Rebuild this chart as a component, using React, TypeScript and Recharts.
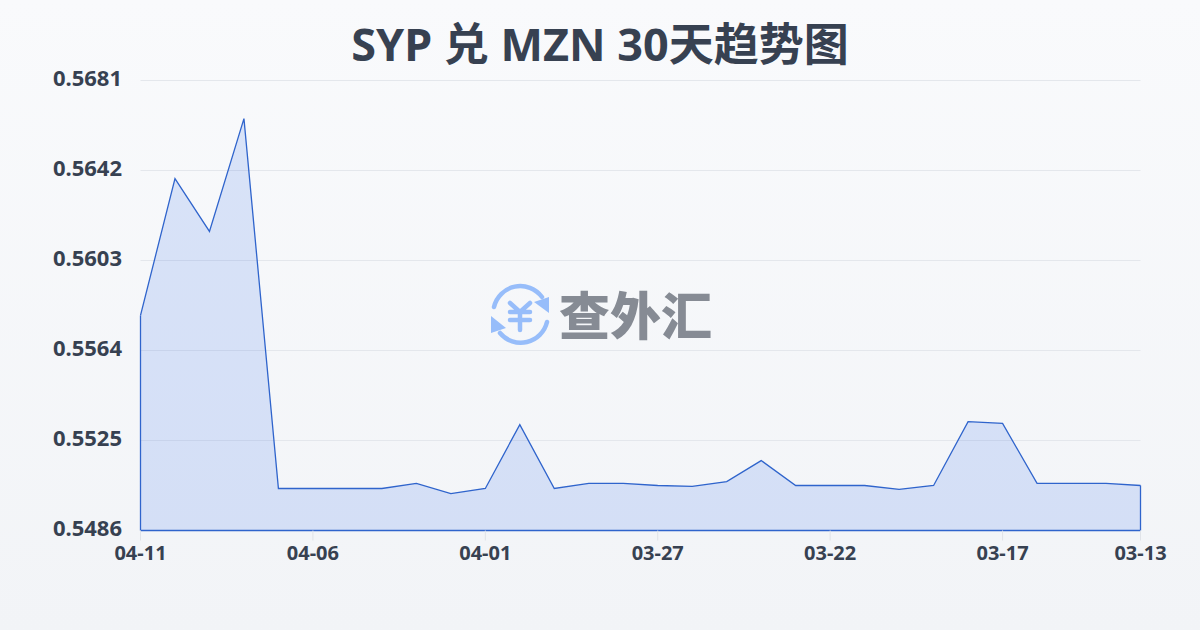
import { AreaChart, Area, XAxis, YAxis, CartesianGrid, ReferenceLine } from "recharts"

const dates = [
    "04-11", "04-10", "04-09", "04-08", "04-07", "04-06", "04-05", "04-04", "04-03", "04-02",
    "04-01", "03-31", "03-30", "03-29", "03-28", "03-27", "03-26", "03-25", "03-24", "03-23",
    "03-22", "03-21", "03-20", "03-19", "03-18", "03-17", "03-16", "03-15", "03-14", "03-13",
]
const rates = [
    0.55792, 0.56385, 0.56156, 0.56645, 0.55042, 0.55042, 0.55042, 0.55042, 0.55064, 0.5502,
    0.55042, 0.55319, 0.55042, 0.55064, 0.55064, 0.55055, 0.55051, 0.55072, 0.55163, 0.55055,
    0.55055, 0.55055, 0.55038, 0.55055, 0.55332, 0.55324, 0.55064, 0.55064, 0.55064, 0.55055,
]
const xTicks = ["04-11", "04-06", "04-01", "03-27", "03-22", "03-17", "03-13"]
const yTicks = [0.5486, 0.5525, 0.5564, 0.5603, 0.5642, 0.5681]

const data = dates.map((date, i) => ({ date, rate: rates[i] }))

const font = '"Noto Sans", "Noto Sans CJK SC", sans-serif'
const textColor = "#374151"
const lineColor = "#2f64cc"
const yMin = yTicks[0]
const firstDate = dates[0]
const lastDate = dates[dates.length - 1]

function Logo() {
    return (
        <div style={{ position: "absolute", left: 488, top: 282, width: 230, height: 66 }}>
            <svg width="64" height="66" viewBox="0 0 64 66" style={{ position: "absolute", left: 0, top: 0 }}>
                <g fill="none" stroke="#97bdfa" strokeWidth="4.5" strokeLinecap="round">
                    <path d="M6 25 A27 27 0 0 1 54 15" />
                    <path d="M59 40 A27 27 0 0 1 12 51" />
                    <path d="M22 21 L32 30 L42 21 M32 30 V48 M22 30 H42 M22 38 H42" />
                </g>
                <path d="M61 15 L61 31 L46 20 Z" fill="#97bdfa" />
                <path d="M3 34 L3 51 L18 46 Z" fill="#97bdfa" />
            </svg>
            <div
                style={{
                    position: "absolute",
                    left: 71,
                    top: -2,
                    fontFamily: '"Noto Sans CJK SC", sans-serif',
                    fontWeight: 900,
                    fontSize: 51,
                    lineHeight: "66px",
                    color: "#868b94",
                    whiteSpace: "nowrap",
                }}
            >
                查外汇
            </div>
        </div>
    )
}

export default function App() {
    return (
        <div
            style={{
                position: "absolute",
                left: 0,
                top: 0,
                width: 1200,
                height: 630,
                overflow: "hidden",
                background: "linear-gradient(180deg, #f9fafc 0%, #f2f4f7 100%)",
            }}
        >
            <div
                style={{
                    position: "absolute",
                    left: 0,
                    top: 14,
                    width: 1200,
                    textAlign: "center",
                    fontFamily: font,
                    fontWeight: 700,
                    fontSize: 45,
                    lineHeight: "60px",
                    color: textColor,
                }}
            >
                SYP 兑 MZN 30天趋势图
            </div>
            <AreaChart
                width={1200}
                height={630}
                data={data}
                margin={{ top: 80.5, right: 59.5, left: 0, bottom: 0 }}
                style={{ position: "absolute", left: 0, top: 0 }}
            >
                <CartesianGrid stroke="#e4e7ec" strokeWidth={1} vertical={false} />
                <XAxis
                    dataKey="date"
                    ticks={xTicks}
                    interval={0}
                    height={99.5}
                    axisLine={false}
                    tickLine={{ stroke: "#e0e3e8" }}
                    tickSize={10}
                    tickMargin={5}
                    tick={{ fontSize: 20, fontWeight: 700, fill: textColor, fontFamily: font }}
                />
                <YAxis
                    domain={[yMin, yTicks[yTicks.length - 1]]}
                    ticks={yTicks}
                    interval={0}
                    width={140.5}
                    axisLine={false}
                    tickLine={false}
                    tickSize={0}
                    tickMargin={18.5}
                    tick={{ fontSize: 22, fontWeight: 700, fill: textColor, fontFamily: font, dy: -2 }}
                    tickFormatter={(value: number) => value.toFixed(4)}
                />
                <Area
                    type="linear"
                    dataKey="rate"
                    stroke={lineColor}
                    strokeWidth={1.3}
                    fill="#2563eb"
                    fillOpacity={0.15}
                    baseValue={yMin}
                    dot={false}
                    activeDot={false}
                    isAnimationActive={false}
                />
                <ReferenceLine ifOverflow="visible" segment={[{ x: firstDate, y: yMin }, { x: firstDate, y: rates[0] }]} stroke={lineColor} strokeWidth={1.3} />
                <ReferenceLine ifOverflow="visible" segment={[{ x: lastDate, y: yMin }, { x: lastDate, y: rates[rates.length - 1] }]} stroke={lineColor} strokeWidth={1.3} />
                <ReferenceLine ifOverflow="visible" segment={[{ x: firstDate, y: yMin }, { x: lastDate, y: yMin }]} stroke={lineColor} strokeWidth={1.3} />
            </AreaChart>
            <Logo />
        </div>
    )
}
